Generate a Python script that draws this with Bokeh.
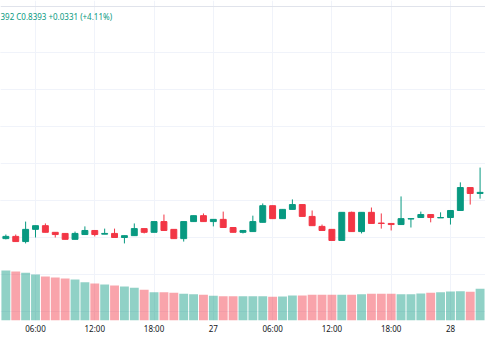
import pandas as pd
from bokeh.plotting import figure
from bokeh.models import Range1d, FixedTicker, Grid, Label, ColumnDataSource, Span
from bokeh.embed import file_html
from bokeh.resources import INLINE

# ---- data (hourly candles, 26th 03:00 -> 28th 03:00) ----
times = pd.date_range("2024-03-26 03:00", periods=49, freq="h")
opens = [0.8297, 0.8303, 0.8289, 0.8322, 0.8332, 0.8314, 0.8311, 0.8295, 0.8308, 0.8319,
         0.8309, 0.8311, 0.8300, 0.8305, 0.8324, 0.8314, 0.8343, 0.8322, 0.8297, 0.8343,
         0.8359, 0.8343, 0.8349, 0.8327, 0.8314, 0.8316, 0.8341, 0.8386, 0.8351, 0.8376,
         0.8389, 0.8357, 0.8330, 0.8322, 0.8292, 0.8368, 0.8316, 0.8368, 0.8339, 0.8338,
         0.8335, 0.8350, 0.8354, 0.8362, 0.8353, 0.8354, 0.8373, 0.8435, 0.8419]
highs = [0.8308, 0.8308, 0.8343, 0.8332, 0.8338, 0.8314, 0.8311, 0.8316, 0.8330, 0.8319,
         0.8324, 0.8324, 0.8305, 0.8338, 0.8324, 0.8343, 0.8362, 0.8322, 0.8343, 0.8359,
         0.8365, 0.8349, 0.8370, 0.8327, 0.8319, 0.8359, 0.8392, 0.8386, 0.8376, 0.8403,
         0.8389, 0.8373, 0.8335, 0.8322, 0.8368, 0.8370, 0.8368, 0.8381, 0.8365, 0.8338,
         0.8411, 0.8351, 0.8370, 0.8362, 0.8368, 0.8373, 0.8449, 0.8435, 0.8489]
lows = [0.8295, 0.8289, 0.8284, 0.8300, 0.8314, 0.8300, 0.8295, 0.8295, 0.8308, 0.8303,
        0.8309, 0.8300, 0.8284, 0.8305, 0.8311, 0.8314, 0.8319, 0.8297, 0.8289, 0.8343,
        0.8343, 0.8330, 0.8327, 0.8314, 0.8311, 0.8316, 0.8341, 0.8351, 0.8351, 0.8376,
        0.8357, 0.8332, 0.8319, 0.8292, 0.8292, 0.8316, 0.8311, 0.8338, 0.8324, 0.8319,
        0.8335, 0.8327, 0.8354, 0.8341, 0.8353, 0.8335, 0.8373, 0.8389, 0.8405]
closes = [0.8303, 0.8289, 0.8322, 0.8332, 0.8314, 0.8308, 0.8295, 0.8311, 0.8319, 0.8308,
          0.8311, 0.8300, 0.8305, 0.8324, 0.8314, 0.8343, 0.8319, 0.8297, 0.8343, 0.8359,
          0.8343, 0.8349, 0.8327, 0.8314, 0.8319, 0.8343, 0.8386, 0.8351, 0.8376, 0.8389,
          0.8357, 0.8332, 0.8319, 0.8292, 0.8368, 0.8316, 0.8368, 0.8338, 0.8338, 0.8335,
          0.8351, 0.8351, 0.8362, 0.8354, 0.8354, 0.8373, 0.8435, 0.8419, 0.8422]
volumes = [2000, 1960, 1908, 1840, 1760, 1720, 1680, 1640, 1532, 1480,
           1440, 1400, 1360, 1308, 1228, 1132, 1132, 1108, 1068, 1052,
           1028, 988, 972, 972, 972, 972, 972, 948, 960, 1000,
           1000, 1028, 1028, 1028, 1028, 1028, 1052, 1068, 1068, 1068,
           1052, 1052, 1080, 1108, 1132, 1160, 1172, 1148, 1268]

tick_times = pd.to_datetime(["2024-03-26 06:00", "2024-03-26 12:00", "2024-03-26 18:00",
                             "2024-03-27 00:00", "2024-03-27 06:00", "2024-03-27 12:00",
                             "2024-03-27 18:00", "2024-03-28 00:00"])
tick_labels = ["06:00", "12:00", "18:00", "27", "06:00", "12:00", "18:00", "28"]
price_grid = [0.81, 0.82, 0.83, 0.84, 0.85, 0.86, 0.87, 0.88]
legend_text = "392 C0.8393 +0.0331 (+4.11%)"

UP = "#089981"
DOWN = "#f23645"

up_flags = [c >= o for o, c in zip(opens, closes)]
colors = [UP if u else DOWN for u in up_flags]
src = ColumnDataSource(dict(
    t=times, o=opens, h=highs, l=lows, c=closes, v=volumes,
    top=[max(o, c) for o, c in zip(opens, closes)],
    bot=[min(o, c) for o, c in zip(opens, closes)],
    color=colors,
))

HOUR = 3600 * 1000
x_start = pd.Timestamp("2024-03-26 02:27:27")
x_end = pd.Timestamp("2024-03-28 03:32:50")

p = figure(width=485, height=360, x_axis_type="datetime", y_axis_location=None,
           x_range=Range1d(x_start, x_end), y_range=Range1d(0.807568, 0.894054),
           toolbar_location=None, output_backend="svg",
           min_border_left=0, min_border_right=0, min_border_top=0, min_border_bottom=40)
p.outline_line_color = None
p.background_fill_color = "white"
p.border_fill_color = "white"
p.extra_y_ranges = {"vol": Range1d(0, 12800)}

# grids
p.xgrid.grid_line_color = "#f0f3fa"
p.xaxis.ticker = FixedTicker(ticks=[t.value / 1e6 for t in tick_times])
p.add_layout(Grid(dimension=1, ticker=FixedTicker(ticks=price_grid), grid_line_color="#f0f3fa"))
p.add_layout(Span(location=0.89243, dimension="width", line_color="#e0e3eb", line_width=1))

# volume
p.vbar(x="t", top="v", bottom=0, width=0.9 * HOUR, source=src, y_range_name="vol",
       fill_color="color", fill_alpha=0.45, line_color=None)

# candles
p.segment(x0="t", y0="h", x1="t", y1="l", source=src, line_color="color", line_width=1)
p.vbar(x="t", top="top", bottom="bot", width=0.6 * HOUR, source=src,
       fill_color="color", line_color="color", line_width=1)

# x axis
p.xaxis.major_label_overrides = {t.value / 1e6: lab for t, lab in zip(tick_times, tick_labels)}
p.xaxis.axis_line_color = None
p.xaxis.major_tick_line_color = None
p.xaxis.minor_tick_line_color = None
p.xaxis.major_tick_out = 0
p.xaxis.major_label_standoff = 2
p.xaxis.major_label_text_font = "Noto Sans"
p.xaxis.major_label_text_font_size = "8px"
p.xaxis.major_label_text_color = "#131722"

p.add_layout(Label(x=0, y=304, x_units="screen", y_units="screen", text=legend_text,
                   text_font="Noto Sans", text_font_size="8px", text_color=UP,
                   text_align="left", text_baseline="middle"))

open("out.html", "w").write(file_html(p, INLINE))
